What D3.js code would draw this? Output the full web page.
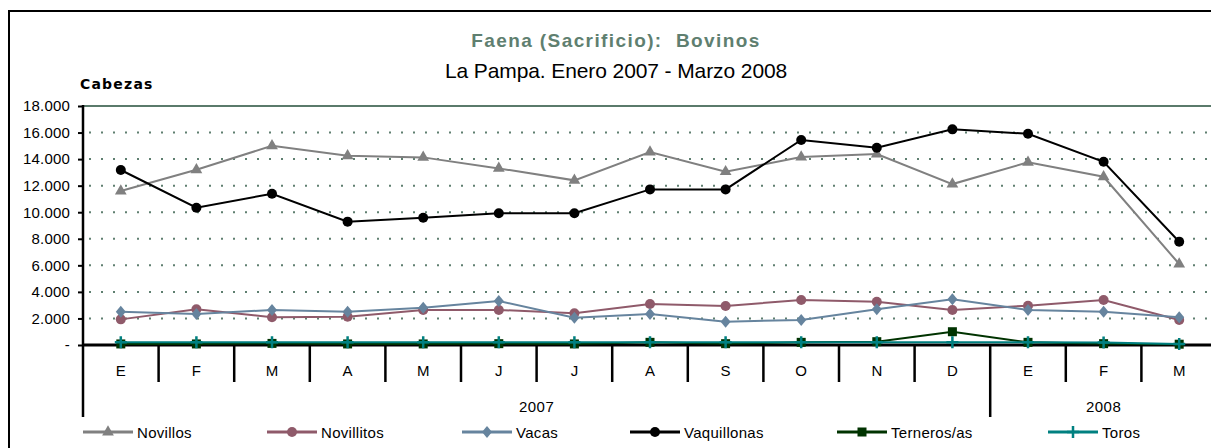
<!DOCTYPE html>
<html>
<head>
<meta charset="utf-8">
<script src="https://cdn.jsdelivr.net/npm/d3@7"></script>
<style>
  body { margin: 0; background: #fff; }
  svg { display: block; font-family: Arial, "Liberation Sans", sans-serif; }
</style>
</head>
<body>
<div id="chart"></div>
<script>
// datos
const months = ['E','F','M','A','M','J','J','A','S','O','N','D','E','F','M'];
const years = [{label: '2007', from: 0, to: 12}, {label: '2008', from: 12, to: 15}];
const yTicks = [0, 2000, 4000, 6000, 8000, 10000, 12000, 14000, 16000, 18000];

const novillos    = [11600, 13200, 15000, 14250, 14130, 13300, 12400, 14530, 13050, 14150, 14380, 12120, 13760, 12670, 6100];
const novillitos  = [1930, 2690, 2090, 2130, 2640, 2640, 2390, 3090, 2940, 3390, 3260, 2640, 2960, 3390, 1880];
const vacas       = [2510, 2330, 2640, 2510, 2810, 3310, 2060, 2330, 1760, 1880, 2690, 3440, 2640, 2510, 2090];
const vaquillonas = [13180, 10340, 11390, 9290, 9590, 9920, 9920, 11720, 11720, 15440, 14860, 16240, 15910, 13800, 7780];
const terneros    = [80, 80, 120, 80, 80, 100, 80, 200, 100, 200, 250, 1000, 200, 100, 60];
const toros       = [200, 200, 200, 200, 200, 200, 200, 200, 200, 200, 200, 200, 200, 180, 80];

const series = [
    {name: 'Novillos',    values: novillos,    color: '#808080', marker: 'triangle'},
    {name: 'Novillitos',  values: novillitos,  color: '#8f5a6a', marker: 'circle'},
    {name: 'Vacas',       values: vacas,       color: '#66849e', marker: 'diamond'},
    {name: 'Vaquillonas', values: vaquillonas, color: '#000000', marker: 'circle'},
    {name: 'Terneros/as', values: terneros,    color: '#003300', marker: 'square'},
    {name: 'Toros',       values: toros,       color: '#008080', marker: 'cross'}
];
// posiciones de la leyenda (x inicio de la linea)
const legendX = [83, 267, 462, 630, 837, 1048];

const W = 1211, H = 448;
const plot = {left: 83, right: 1217, top: 106, bottom: 345};

const svg = d3.select('#chart').append('svg')
    .attr('width', W)
    .attr('height', H);

// borde exterior
svg.append('path')
    .attr('d', `M9,${H} L9,11 L${W},11`)
    .attr('fill', 'none')
    .attr('stroke', '#000')
    .attr('stroke-width', 2);

// titulos
svg.append('text')
    .attr('x', 616).attr('y', 47)
    .attr('text-anchor', 'middle')
    .attr('font-size', 19).attr('font-weight', 'bold')
    .attr('letter-spacing', 1.4)
    .style('white-space', 'pre')
    .attr('fill', '#5f7f70')
    .text('Faena (Sacrificio):  Bovinos');
svg.append('text')
    .attr('x', 616).attr('y', 78)
    .attr('text-anchor', 'middle')
    .attr('font-size', 21)
    .attr('letter-spacing', -0.1)
    .attr('fill', '#000')
    .text('La Pampa. Enero 2007 - Marzo 2008');
svg.append('text')
    .attr('x', 80).attr('y', 89)
    .attr('font-size', 14).attr('font-weight', 'bold')
    .attr('letter-spacing', 1.2)
    .attr('font-family', 'Verdana, "DejaVu Sans", sans-serif')
    .attr('fill', '#000')
    .text('Cabezas');

const x = d3.scaleBand()
    .domain(d3.range(months.length))
    .range([plot.left, plot.right])
    .padding(0);
const y = d3.scaleLinear()
    .domain([0, 18000])
    .range([plot.bottom, plot.top]);

const cx = i => x(i) + x.bandwidth() / 2;

// lineas de division punteadas
svg.append('g').selectAll('line')
    .data(yTicks.filter(d => d > 0 && d < 18000))
    .enter().append('line')
    .attr('x1', plot.left + 6).attr('x2', W)
    .attr('y1', d => y(d)).attr('y2', d => y(d))
    .attr('stroke', '#5f7f70')
    .attr('stroke-width', 2)
    .attr('stroke-dasharray', '2,10');

// linea superior
svg.append('line')
    .attr('x1', plot.left).attr('x2', W)
    .attr('y1', y(18000)).attr('y2', y(18000))
    .attr('stroke', '#5a7a6b')
    .attr('stroke-width', 2);

// eje y
const fmt = d3.formatLocale({decimal: ',', thousands: '.', grouping: [3], currency: ['$', '']}).format(',');
const yAxis = svg.append('g')
    .attr('transform', `translate(${plot.left},0)`)
    .call(d3.axisLeft(y).tickValues(yTicks).tickSize(5).tickPadding(8)
        .tickFormat(d => d === 0 ? '-' : fmt(d)));
yAxis.select('.domain').remove();
yAxis.selectAll('line').attr('stroke', '#000').attr('stroke-width', 2);
const yLabels = yAxis.selectAll('text').attr('font-size', 15).attr('fill', '#000')
    .attr('font-family', 'Arial, "Liberation Sans", sans-serif');
// ajustar espaciado para que "18.000" mida ~47px como en el original
const topLabel = yLabels.filter(d => d === 18000).node();
const ls = Math.max(0, (47 - topLabel.getComputedTextLength()) / 6);
yLabels.attr('letter-spacing', ls);

svg.append('line')
    .attr('x1', plot.left).attr('x2', plot.left)
    .attr('y1', plot.top - 1).attr('y2', 417)
    .attr('stroke', '#000').attr('stroke-width', 2.5);

// eje x: divisiones de meses
svg.append('g').selectAll('line')
    .data(d3.range(1, months.length))
    .enter().append('line')
    .attr('x1', i => x(i)).attr('x2', i => x(i))
    .attr('y1', plot.bottom)
    .attr('y2', i => years.some(yr => yr.from === i) ? 417 : 382)
    .attr('stroke', '#000').attr('stroke-width', 2.5);

svg.append('line')
    .attr('x1', plot.left).attr('x2', W)
    .attr('y1', plot.bottom).attr('y2', plot.bottom)
    .attr('stroke', '#000').attr('stroke-width', 3);

svg.append('g').selectAll('text')
    .data(months)
    .enter().append('text')
    .attr('x', (d, i) => cx(i))
    .attr('y', 376)
    .attr('text-anchor', 'middle')
    .attr('font-size', 15)
    .attr('fill', '#000')
    .text(d => d);

svg.append('g').selectAll('text')
    .data(years)
    .enter().append('text')
    .attr('x', d => (x(d.from) + x(d.to - 1) + x.bandwidth()) / 2)
    .attr('y', 412)
    .attr('text-anchor', 'middle')
    .attr('font-size', 15)
    .attr('letter-spacing', 0.5)
    .attr('fill', '#000')
    .text(d => d.label);

// simbolos
function drawMarker(g, type, color, px, py) {
    if (type === 'circle') {
        g.append('circle').attr('cx', px).attr('cy', py).attr('r', 5).attr('fill', color);
    } else if (type === 'triangle') {
        g.append('path').attr('d', d3.symbol().type(d3.symbolTriangle).size(60)())
            .attr('transform', `translate(${px},${py})`).attr('fill', color);
    } else if (type === 'diamond') {
        g.append('path').attr('d', `M0,-6L5,0L0,6L-5,0Z`)
            .attr('transform', `translate(${px},${py})`).attr('fill', color);
    } else if (type === 'square') {
        g.append('rect').attr('x', px - 4.5).attr('y', py - 4.5)
            .attr('width', 9).attr('height', 9).attr('fill', color);
    } else if (type === 'cross') {
        g.append('path').attr('d', 'M-6,0H6M0,-6V6')
            .attr('transform', `translate(${px},${py})`)
            .attr('stroke', color).attr('stroke-width', 2.5);
    }
}

const line = d3.line()
    .x((d, i) => cx(i))
    .y(d => y(d));

// orden de dibujo: las lineas bajas primero
const drawOrder = [4, 5, 1, 2, 0, 3];
drawOrder.forEach(k => {
    const s = series[k];
    const g = svg.append('g');
    g.append('path')
        .datum(s.values)
        .attr('d', line)
        .attr('fill', 'none')
        .attr('stroke', s.color)
        .attr('stroke-width', 2);
    s.values.forEach((v, i) => drawMarker(g, s.marker, s.color, cx(i), y(v)));
});

// leyenda
const legend = svg.append('g');
series.forEach((s, k) => {
    const lx = legendX[k], ly = 432;
    const g = legend.append('g');
    g.append('line')
        .attr('x1', lx).attr('x2', lx + 50)
        .attr('y1', ly).attr('y2', ly)
        .attr('stroke', s.color).attr('stroke-width', 3);
    drawMarker(g, s.marker, s.color, lx + 25, ly);
    g.append('text')
        .attr('x', lx + 54).attr('y', ly + 5.5)
        .attr('font-size', 15)
        .attr('letter-spacing', 0.3)
        .attr('fill', '#000')
        .text(s.name);
});
</script>
</body>
</html>
